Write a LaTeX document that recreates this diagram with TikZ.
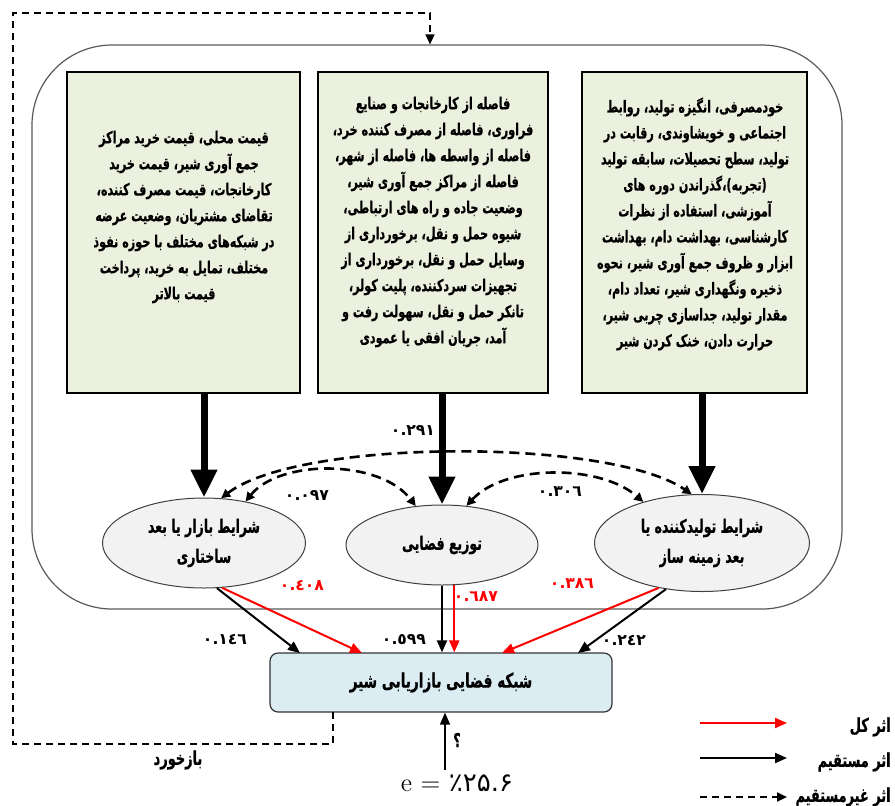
\documentclass[tikz,border=0pt]{standalone}
\usepackage{fontspec}
\usepackage{tikz}
\usetikzlibrary{arrows.meta,shapes.geometric,calc}
\TeXXeTstate=1
\newfontfamily\farsi[Script=Arabic]{DejaVu Sans}
\newfontfamily\farsinarrow[Script=Arabic,FakeStretch=0.68,BoldFeatures={FakeBold=0.6}]{DejaVu Sans}
\newcommand{\rl}[1]{\beginR #1\endR}
\definecolor{box_green}{RGB}{235, 241, 222}
\definecolor{ell_grey}{RGB}{242, 242, 242}
\definecolor{net_blue}{RGB}{219, 236, 243}
\definecolor{frame_grey}{RGB}{89, 89, 89}
\definecolor{eff_red}{RGB}{255, 0, 0}
\tikzstyle{frame}=[rectangle,rounded corners=40pt,draw=frame_grey,line width=0.6pt,
  minimum width=405pt,minimum height=282pt,inner sep=0pt]
\tikzstyle{factor}=[rectangle,fill=box_green,draw=black,line width=0.6pt,
  minimum height=160.5pt,inner sep=0pt]
\tikzstyle{factortext}=[font=\farsinarrow\bfseries\fontsize{8.2}{13}\selectfont,
  align=center,inner sep=0pt]
\tikzstyle{dim}=[ellipse,fill=ell_grey,draw=black!75,line width=0.5pt,inner sep=0pt,
  font=\farsinarrow\bfseries\fontsize{9.2}{15}\selectfont,align=center]
\tikzstyle{net}=[rectangle,rounded corners=4pt,fill=net_blue,draw=black!80,line width=0.6pt,
  minimum width=171pt,minimum height=29.5pt,font=\farsinarrow\bfseries\fontsize{10}{12}\selectfont]
\tikzstyle{coef}=[font=\farsi\bfseries\fontsize{7.8}{9}\selectfont,inner sep=1pt]
\tikzstyle{caption}=[font=\farsinarrow\bfseries\fontsize{9.5}{11}\selectfont,inner sep=1pt]
\tikzstyle{total}=[draw=eff_red,line width=1pt,-{Triangle[length=6pt,width=5pt]}]
\tikzstyle{direct}=[draw=black,line width=1pt,-{Triangle[length=6pt,width=5pt]}]
\tikzstyle{indirect}=[draw=black,line width=1.3pt,dash pattern=on 5pt off 3pt,
  {Triangle[length=4.5pt,width=4.5pt]}-{Triangle[length=4.5pt,width=4.5pt]}]
\tikzstyle{main}=[draw=black,line width=3.5pt,-{Triangle[length=14pt,width=12.5pt]}]
\tikzstyle{feedback}=[draw=black,line width=0.8pt,dash pattern=on 3.5pt off 2.5pt,
  -{Triangle[length=5pt,width=4.5pt]}]
\tikzstyle{none}=[]

\begin{document}
\begin{tikzpicture}[x=0.5pt,y=-0.5pt]
		\useasboundingbox (0,0) rectangle (895,805);
		\node [style=frame] (0) at (437, 327) {};
		\node [style=factor, minimum width=116.5pt] (1) at (183.5, 232.5) {};
		\node [style=factor, minimum width=115pt] (2) at (433, 232.5) {};
		\node [style=factor, minimum width=112.5pt] (3) at (694.5, 232.5) {};
		\node [style=factortext] (4) at (184, 217) {\rl{قیمت محلی، قیمت خرید مراکز}\\
			\rl{جمع آوری شیر، قیمت خرید}\\
			\rl{کارخانجات، قیمت مصرف کننده،}\\
			\rl{تقاضای مشتریان، وضعیت عرضه}\\
			\rl{در شبکه‌های مختلف با حوزه نفوذ}\\
			\rl{مختلف، تمایل به خرید، پرداخت}\\
			\rl{قیمت بالاتر}};
		\node [style=factortext] (5) at (433, 222) {\rl{فاصله از کارخانجات و صنایع}\\
			\rl{فراوری، فاصله از مصرف کننده خرد،}\\
			\rl{فاصله از واسطه ها، فاصله از شهر،}\\
			\rl{فاصله از مراکز جمع آوری شیر،}\\
			\rl{وضعیت جاده و راه های ارتباطی،}\\
			\rl{شیوه حمل و نقل، برخورداری از}\\
			\rl{وسایل حمل و نقل، برخورداری از}\\
			\rl{تجهیزات سردکننده، پلیت کولر،}\\
			\rl{تانکر حمل و نقل، سهولت رفت و}\\
			\rl{آمد، جریان افقی یا عمودی}};
		\node [style=factortext] (6) at (695, 224) {\rl{خودمصرفی، انگیزه تولید، روابط}\\
			\rl{اجتماعی و خویشاوندی، رقابت در}\\
			\rl{تولید، سطح تحصیلات، سابقه تولید}\\
			\rl{(تجربه)،گذراندن دوره های}\\
			\rl{آموزشی، استفاده از نظرات}\\
			\rl{کارشناسی، بهداشت دام، بهداشت}\\
			\rl{ابزار و ظروف جمع آوری شیر، نحوه}\\
			\rl{ذخیره ونگهداری شیر، تعداد دام،}\\
			\rl{مقدار تولید، جداسازی چربی شیر،}\\
			\rl{حرارت دادن، خنک کردن شیر}};
		\node [style=dim, minimum width=101.5pt, minimum height=45pt] (7) at (204, 543) {\rl{شرایط بازار یا بعد}\\ \rl{ساختاری}};
		\node [style=dim, minimum width=96pt, minimum height=40pt] (8) at (442, 545) {\rl{توزیع فضایی}};
		\node [style=dim, minimum width=107.5pt, minimum height=48.5pt] (9) at (702, 543) {\rl{شرایط تولیدکننده یا}\\ \rl{بعد زمینه ساز}};
		\node [style=net] (10) at (441, 682.5) {\rl{شبکه فضایی بازاریابی شیر}};

		% coefficients
		\node [style=coef] (11) at (413, 430) {٠.٢٩١};
		\node [style=coef] (12) at (307, 495) {٠.٠٩٧};
		\node [style=coef] (13) at (560, 492) {٠.٣٠٦};
		\node [style=coef, text=eff_red] (14) at (302, 586) {٠.٤٠٨};
		\node [style=coef, text=eff_red] (15) at (476, 597) {٠.٦٨٧};
		\node [style=coef, text=eff_red] (16) at (572, 584) {٠.٣٨٦};
		\node [style=coef] (17) at (225, 640) {٠.١٤٦};
		\node [style=coef] (18) at (404, 640) {٠.٥٩٩};
		\node [style=coef] (19) at (624, 641) {٠.٢٤٢};

		% ends on the network box
		\node [style=none] (20) at (300, 653) {};
		\node [style=none] (21) at (362, 653) {};
		\node [style=none] (22) at (502, 653) {};
		\node [style=none] (23) at (578, 653) {};

		\draw [style=main] (7.north |- 1.south) to (7.north);
		\draw [style=main] (8.north |- 2.south) to (8.north);
		\draw [style=main] (9.north |- 3.south) to (9.north);
		\draw [style=indirect] (7.69) .. controls (300, 438) and (610, 438) .. (9.102);
		\draw [style=indirect] (7.45) .. controls (280, 459) and (380, 459) .. (8.124);
		\draw [style=indirect] (8.58) .. controls (505, 464) and (600, 464) .. (9.145);
		\draw [style=direct] (7.-74) to (20.center);
		\draw [style=total] (7.-68) to (21.center);
		\draw [style=direct] (8.south) to (8.south |- 10.north);
		\draw [style=total] (8.-73) to (8.-73 |- 10.north);
		\draw [style=total] (9.-134) to (22.center);
		\draw [style=direct] (9.-128) to (23.center);

		% error term
		\node [style=none] (24) at (445, 770) {};
		\node [font=\fontsize{13}{15}\selectfont, inner sep=0pt] (25) at (457, 783) {e = {\farsi ٪۲۵.۶}};
		\node [style=caption] (26) at (457, 740) {؟};
		\draw [style=direct, line width=0.8pt] (24.center) to (24.center |- 10.south);

		% feedback
		\node [style=none] (27) at (333, 712) {};
		\node [style=none] (28) at (13, 744) {};
		\node [style=none] (29) at (430, 13) {};
		\draw [style=feedback] (27.center) |- (28.center) |- (29.center) to (29.center |- 0.north);
		\node [style=caption] (30) at (178, 760) {\rl{بازخورد}};

		% legend
		\node [style=none] (31) at (700, 723) {};
		\node [style=none] (32) at (787, 723) {};
		\node [style=none] (33) at (700, 758) {};
		\node [style=none] (34) at (787, 758) {};
		\node [style=none] (35) at (700, 797) {};
		\node [style=none] (36) at (787, 797) {};
		\node [style=caption, anchor=east] (37) at (893, 727) {\rl{اثر کل}};
		\node [style=caption, anchor=east] (38) at (893, 762) {\rl{اثر مستقیم}};
		\node [style=caption, anchor=east] (39) at (893, 797) {\rl{اثر غیرمستقیم}};
		\draw [style=total] (31.center) to (32.center);
		\draw [style=direct] (33.center) to (34.center);
		\draw [style=feedback, line width=1pt] (35.center) to (36.center);
\end{tikzpicture}
\end{document}
